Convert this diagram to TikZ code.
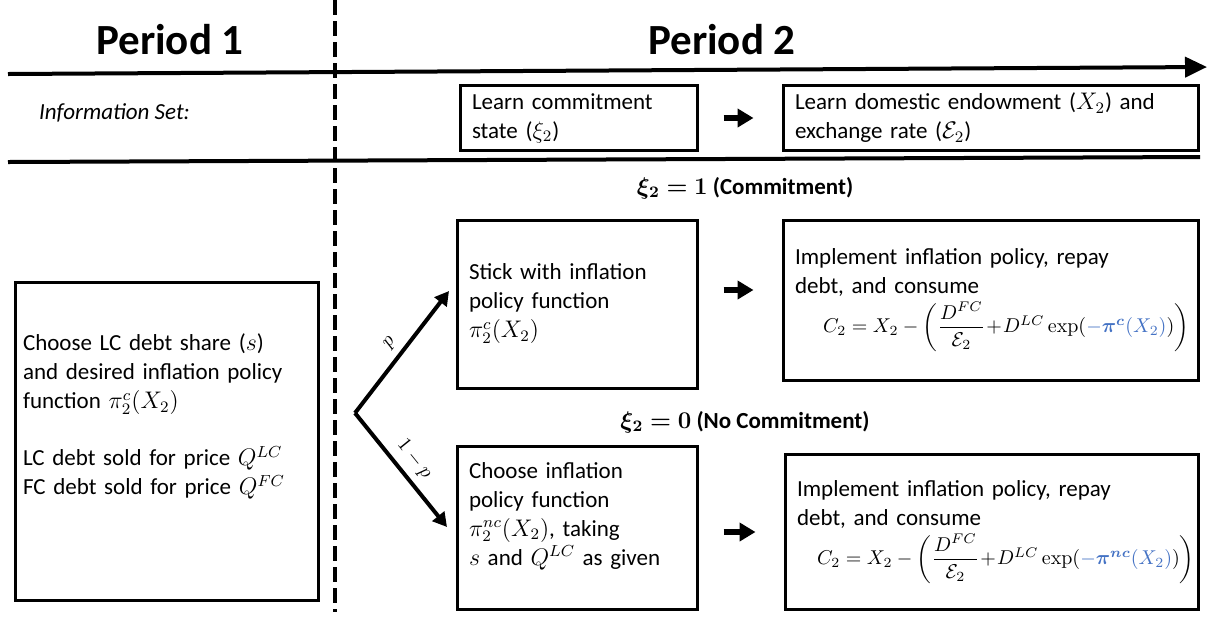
\documentclass[tikz,border=0pt]{standalone}
\usepackage{amsmath}
\usepackage{amssymb}
\usepackage{bm}
\usepackage[no-math]{fontspec}
\setmainfont{Carlito}
\usepackage{xcolor}
\usetikzlibrary{positioning,arrows.meta}
\definecolor{polblue}{HTML}{4472C4}

\begin{document}
\begin{tikzpicture}[x=0.5pt,y=-0.5pt,
  box/.style={draw, line width=1.5pt, inner xsep=6pt, inner ysep=4pt, align=left,
    font=\fontsize{11.5}{14.5}\selectfont},
  flow/.style={line width=2.6pt, -{Triangle[length=8pt,width=9pt]}},
  branch/.style={line width=2pt, -{Triangle[length=7pt,width=7.5pt]}},
  heading/.style={font=\fontsize{21.5}{25}\selectfont\bfseries},
  state/.style={font=\fontsize{11.5}{14}\selectfont\bfseries}]
\useasboundingbox (0,0) rectangle (1213,617);

% Headings
\node[heading] (per1) at (170,40) {Period 1};
\node[heading] (per2) at (722,40) {Period 2};

% Time line and separators
\coordinate (tl) at (8,74);
\coordinate (tr) at (1207,67);
\draw[line width=2pt, -{Triangle[length=11pt,width=10pt]}] (tl) -- (tr);
\coordinate (sl) at (8,162);
\coordinate (sr) at (1200,157);
\draw[line width=2pt] (sl) -- (sr);
\coordinate (dtop) at (335,0);
\coordinate (dbot) at (335,612);
\draw[line width=2.2pt, dash pattern=on 7.5pt off 3pt] (dtop) -- (dbot);

% Information set
\node[anchor=west, font=\fontsize{11.5}{13}\selectfont\itshape] (info) at (32,113) {Information Set:};
\node[box, minimum width=118.5pt, minimum height=32pt, text width=106.5pt] (learnA) at (578.5,118)
  {Learn commitment\\ state ($\xi_2$)};
\node[box, minimum width=207.5pt, minimum height=32pt, text width=195.5pt] (learnB) at (990.5,118)
  {Learn domestic endowment ($X_2$) and\\ exchange rate ($\mathcal{E}_2$)};
\draw[flow, shorten <=12.5pt, shorten >=14pt] (learnA.east) -- (learnB.west);

% Period 1 choice
\node[box, inner xsep=4pt, minimum width=151.5pt, minimum height=159pt, text width=143.5pt] (choice) at (166.5,441)
  {Choose LC debt share ($s$)\\ and desired inflation policy\\ function $\pi_2^c(X_2)$\\[14pt]
   LC debt sold for price $Q^{LC}$\\ FC debt sold for price $Q^{FC}$\\[12pt]\mbox{}};

% Commitment
\node[state] (comm) at (745,188) {$\bm{\xi_2 = 1}$ (Commitment)};
\node[box, minimum width=120pt, minimum height=84pt, text width=108pt] (stick) at (577,304)
  {Stick with inflation\\ policy function\\ $\pi_2^c(X_2)$};
\node[box, minimum width=207.5pt, minimum height=80pt, text width=195.5pt] (impA) at (990.5,300)
  {Implement inflation policy, repay\\ debt, and consume\\[2pt]
   \hspace*{14pt}\mbox{\fontsize{10}{12}\selectfont$C_2 = X_2 - \left(\dfrac{D^{FC}}{\mathcal{E}_2}\!+\!D^{LC}\exp(\textcolor{polblue}{-\bm{\pi}^{\bm{c}}(X_2)})\right)$}};
\draw[flow, shorten <=12.5pt, shorten >=14pt] ([yshift=7pt]stick.east) -- ([yshift=7pt]stick.east -| impA.west);

% No commitment
\node[state] (nocomm) at (745,422) {$\bm{\xi_2 = 0}$ (No Commitment)};
\node[box, minimum width=120pt, minimum height=81.5pt, text width=108pt] (choose) at (577,528)
  {Choose inflation\\ policy function\\ $\pi_2^{nc}(X_2)$, taking\\ $s$ and $Q^{LC}$ as given\\ \mbox{}};
\node[box, minimum width=206.5pt, minimum height=77.5pt, text width=194.5pt] (impB) at (991.5,532)
  {Implement inflation policy, repay\\ debt, and consume\\[2pt]
   \hspace*{10pt}\mbox{\fontsize{10}{12}\selectfont$C_2 = X_2 - \left(\dfrac{D^{FC}}{\mathcal{E}_2}\!+\!D^{LC}\exp(\textcolor{polblue}{-\bm{\pi}^{\bm{nc}}(X_2)})\right)$}};
\draw[flow, shorten <=12.5pt, shorten >=14pt] ([yshift=-2pt]choose.east) -- ([yshift=-2pt]choose.east -| impB.west);

% Branches
\coordinate (fork) at (355,413);
\coordinate (upTip) at (449,291);
\coordinate (loTip) at (447,527);
\draw[branch] (fork) -- node[midway, above, sloped] (plab) {$p$} (upTip);
\draw[branch] (fork) -- node[midway, above, sloped] (qlab) {$1-p$} (loTip);
\end{tikzpicture}
\end{document}
